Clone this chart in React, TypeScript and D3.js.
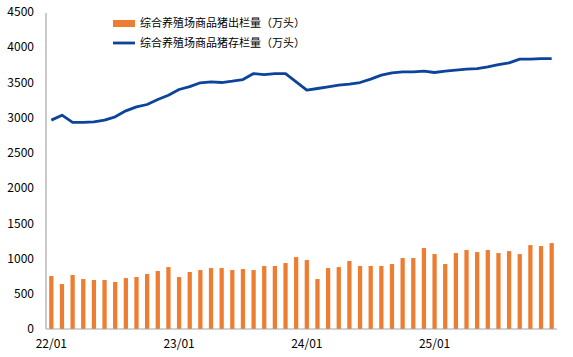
import React from "react";
import * as d3 from "d3";

const months: string[] = [];
for (let y = 22; y <= 25; y++) for (let m = 1; m <= 12; m++) months.push(`${y}/${String(m).padStart(2, "0")}`);

const outputValues = [
  752, 638, 766, 709, 695, 695, 667, 723, 738, 780, 823, 879,
  738, 809, 837, 865, 865, 837, 851, 837, 894, 894, 936, 1021,
  979, 709, 865, 879, 965, 894, 894, 894, 922, 1007, 1007, 1149,
  1064, 922, 1078, 1121, 1092, 1121, 1078, 1106, 1064, 1191, 1177, 1220,
];
const stockValues = [
  2965, 3035, 2932, 2932, 2940, 2965, 3012, 3097, 3154, 3187, 3258, 3319,
  3400, 3440, 3495, 3508, 3499, 3518, 3541, 3626, 3612, 3626, 3626, 3508,
  3390, 3414, 3437, 3461, 3475, 3499, 3548, 3603, 3636, 3650, 3650, 3660,
  3641, 3660, 3674, 3688, 3697, 3721, 3754, 3778, 3830, 3830, 3839, 3839,
];
const yTicks = [0, 500, 1000, 1500, 2000, 2500, 3000, 3500, 4000, 4500];
const xTickLabels = ["22/01", "23/01", "24/01", "25/01"];
const seriesNames = ["综合养殖场商品猪出栏量（万头）", "综合养殖场商品猪存栏量（万头）"];

const W = 573, H = 357;
const left = 46, right = 557, top = 12, bottom = 329;
const font = "'Noto Sans CJK SC', 'Noto Sans', sans-serif";

export default function App() {
  const x = d3.scaleBand<string>().domain(months).range([left, right]).paddingInner(0.6).paddingOuter(0.3);
  const y = d3.scaleLinear().domain([0, 4500]).range([bottom, top]);
  const cx = (m: string) => (x(m) as number) + x.bandwidth() / 2;
  const line = d3.line<number>().x((_, i) => cx(months[i])).y((d) => y(d));

  return (
    <svg width={W} height={H} style={{ position: "absolute", left: 0, top: 0 }} fontFamily={font}>
      <rect width={W} height={H} fill="#fff" />
      {yTicks.map((t) => (
        <text key={t} x={34} y={y(t)} dy="0.35em" textAnchor="end" fontSize={12} fill="#000">
          {t}
        </text>
      ))}
      {outputValues.map((v, i) => (
        <rect key={i} x={x(months[i])} y={y(v)} width={x.bandwidth()} height={y(0) - y(v)} fill="#ED7D31" />
      ))}
      <line x1={left} x2={left} y1={top + 1} y2={bottom} stroke="#A6A6A6" strokeWidth={1.2} />
      <line x1={left} x2={right} y1={bottom} y2={bottom} stroke="#A6A6A6" strokeWidth={1.2} />
      <path d={line(stockValues) || ""} fill="none" stroke="#0B449A" strokeWidth={2.8} strokeLinejoin="round" />
      {xTickLabels.map((l) => (
        <text key={l} x={cx(l)} y={348} textAnchor="middle" fontSize={12} fill="#000">
          {l}
        </text>
      ))}
      <rect x={113} y={20} width={22} height={7} fill="#ED7D31" />
      <text x={140} y={23.5} dy="0.35em" fontSize={11} fill="#000">{seriesNames[0]}</text>
      <line x1={113} x2={135} y1={43} y2={43} stroke="#0B449A" strokeWidth={2.8} />
      <text x={140} y={43} dy="0.35em" fontSize={11} fill="#000">{seriesNames[1]}</text>
    </svg>
  );
}
